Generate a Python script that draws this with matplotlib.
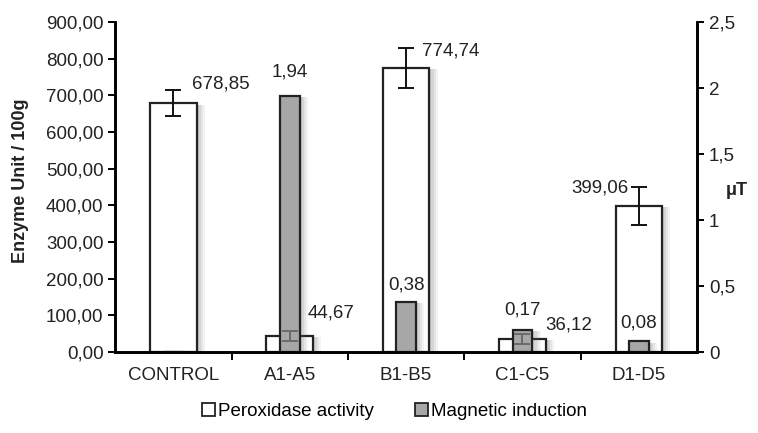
import numpy as np
import matplotlib
matplotlib.use("Agg")
import matplotlib.pyplot as plt
import matplotlib.patheffects as pe
from matplotlib.ticker import FuncFormatter, FixedLocator

plt.rcParams["font.family"] = ["Liberation Sans", "DejaVu Sans"]

groups = ["CONTROL", "A1-A5", "B1-B5", "C1-C5", "D1-D5"]
peroxidase = [678.85, 44.67, 774.74, 36.12, 399.06]
perox_err = [35, 14, 55, 13, 52]
perox_labels = ["678,85", "44,67", "774,74", "36,12", "399,06"]
magnetic = [0, 1.94, 0.38, 0.17, 0.08]
mag_labels = ["", "1,94", "0,38", "0,17", "0,08"]

# hand placed label offsets (points), as in the original
perox_offsets = [(34, 8), (30, 10), (32, 6), (33, 4), (-28, 7)]
mag_offsets = [7, 11, 6, 8, 7]

x = np.arange(len(groups))
GRAY = "#a7a7a7"
TXT = "#222222"
FS = 13.5

# soft shadow on the right of the bars
shadow = [pe.SimplePatchShadow(offset=(o, -1), alpha=a, shadow_rgbFace="0.35")
          for o, a in [(6, 0.07), (4.5, 0.09), (3, 0.11), (1.5, 0.13)]] + [pe.Normal()]

fig = plt.figure(figsize=(7.58, 4.33), dpi=100)
ax = fig.add_axes([0.152, 0.187, 0.7675, 0.762])
ax2 = ax.twinx()

bars1 = ax.bar(x, peroxidase, width=0.4, color="white", edgecolor=TXT, linewidth=1.6, zorder=2)
for b in bars1:
    b.set_path_effects(shadow)

bars2 = ax2.bar(x, magnetic, width=0.17, color=GRAY, edgecolor=TXT, linewidth=1.6, zorder=2)
for b in bars2:
    b.set_path_effects(shadow)

# error bars of the peroxidase series, drawn above the gray bars
covered = np.array(magnetic) > np.array(peroxidase) / 900 * 2.5 - 0.2
for sel, col in [(~covered, "#111111"), (covered, "#6a6a6a")]:
    ax2.errorbar(x[sel], np.array(peroxidase)[sel], yerr=np.array(perox_err)[sel], fmt="none",
                 ecolor=col, elinewidth=1.4, capsize=5.5, capthick=1.4, zorder=4,
                 transform=ax.transData)

for i, v in enumerate(peroxidase):
    ax2.annotate(perox_labels[i], (x[i], v), xycoords=ax.transData, xytext=perox_offsets[i],
                 textcoords="offset points", ha="center", va="bottom", fontsize=FS, color=TXT)
for i, v in enumerate(magnetic):
    if mag_labels[i]:
        ax2.annotate(mag_labels[i], (x[i], v), xytext=(0, mag_offsets[i]), textcoords="offset points",
                     ha="center", va="bottom", fontsize=FS, color=TXT)

ax.set_xlim(-0.5, len(groups) - 0.5)
ax.set_ylim(0, 900)
ax2.set_ylim(0, 2.5)
ax.set_yticks(np.arange(0, 901, 100))
ax2.set_yticks([0, 0.5, 1, 1.5, 2, 2.5])
ax.yaxis.set_major_formatter(FuncFormatter(lambda v, p: f"{v:.2f}".replace(".", ",")))
ax2.yaxis.set_major_formatter(FuncFormatter(lambda v, p: f"{v:g}".replace(".", ",")))

ax.set_xticks(x)
ax.set_xticklabels(groups)
ax.tick_params(axis="x", which="major", length=0, pad=11, labelsize=FS, labelcolor=TXT)
ax.xaxis.set_minor_locator(FixedLocator(x[:-1] + 0.5))
ax.tick_params(axis="x", which="minor", length=6, width=1.4, direction="out")
ax.tick_params(axis="y", length=5, width=1.4, labelsize=FS, labelcolor=TXT)
ax2.tick_params(axis="y", length=5, width=1.4, labelsize=FS, labelcolor=TXT)

for a in (ax, ax2):
    a.spines["top"].set_visible(False)
    for s in ("left", "right", "bottom"):
        a.spines[s].set_linewidth(1.9)

ax.set_ylabel("Enzyme Unit / 100g", fontsize=13, fontweight="bold", color=TXT)
ax.yaxis.set_label_coords(-0.148, 0.52)
ax2.set_ylabel("μT", fontsize=13, fontweight="bold", rotation=0, va="center", ha="center", color=TXT)
ax2.yaxis.set_label_coords(1.069, 0.49)

handles = [plt.Rectangle((0, 0), 1, 1, facecolor="white", edgecolor=TXT, linewidth=1.3),
           plt.Rectangle((0, 0), 1, 1, facecolor=GRAY, edgecolor=TXT, linewidth=1.3)]
fig.legend(handles, ["Peroxidase activity", "Magnetic induction"], loc="center",
           bbox_to_anchor=(0.52, 0.05), ncol=2, frameon=False, fontsize=FS,
           handlelength=0.7, handleheight=0.7, handletextpad=0.15, columnspacing=2.2)

fig.savefig("out.png", dpi=100)
